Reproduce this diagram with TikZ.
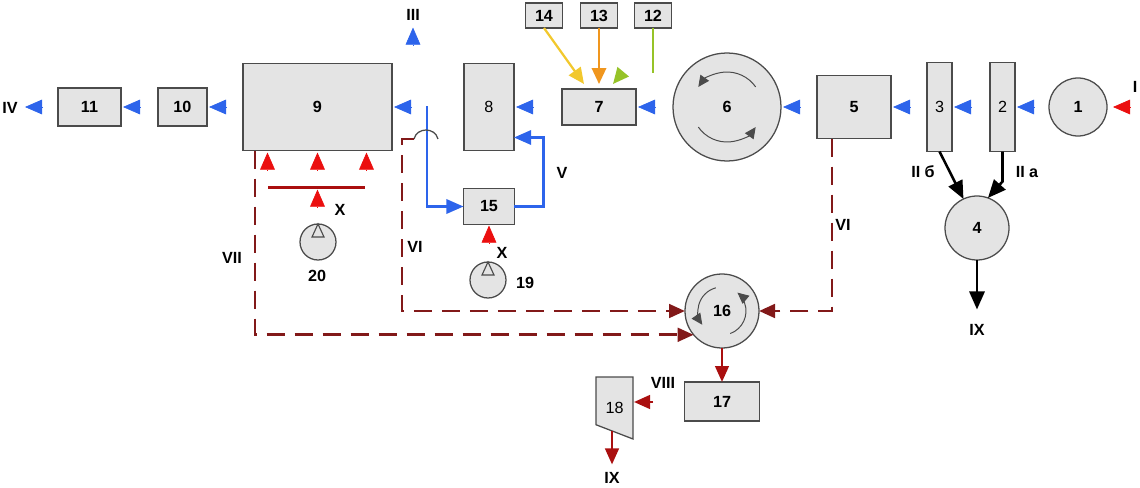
\documentclass[tikz,border=0pt]{standalone}
\usepackage{fontspec}
\setmainfont{Liberation Sans}
\usetikzlibrary{arrows.meta,positioning,calc}
\definecolor{boxfill}{RGB}{228,228,228}
\definecolor{boxline}{RGB}{75,75,75}
\definecolor{feedblue}{RGB}{45,100,235}
\definecolor{heatred}{RGB}{235,15,15}
\definecolor{wastered}{RGB}{130,25,25}
\definecolor{flowred}{RGB}{170,15,15}
\definecolor{addyellow}{RGB}{242,200,45}
\definecolor{addorange}{RGB}{240,150,30}
\definecolor{addgreen}{RGB}{150,195,40}

\begin{document}
\begin{tikzpicture}[x=0.25mm, y=-0.25mm, node distance=9mm,
  font=\bfseries\fontsize{11.5}{13}\selectfont,
  box/.style={draw=boxline, fill=boxfill, line width=0.9pt, inner sep=0pt, outer sep=0pt},
  drum/.style={box, circle},
  regular/.style={font=\mdseries\fontsize{11.5}{13}\selectfont},
  tipped/.style={-{Triangle[length=4.3mm, width=3.7mm]}, line width=0.5pt},
  feed/.style={tipped, feedblue},
  heat/.style={tipped, heatred},
  pipe/.style={feedblue, line width=1.7pt, -{Triangle[length=4.3mm, width=3.6mm]}},
  waste/.style={wastered, line width=2.1pt, dash pattern=on 4.5mm off 2.5mm,
                -{Triangle[length=4mm, width=3.4mm]}},
  flow/.style={flowred, line width=1.8pt, -{Triangle[length=4mm, width=3.4mm]}},
  drain/.style={black, line width=1.8pt, -{Triangle[length=4.5mm, width=3.8mm]}},
  dose/.style={line width=1.6pt, -{Triangle[length=4mm, width=3.6mm]}},
  swirl/.style={boxline, line width=0.7pt, -{Triangle[length=2.8mm, width=2.6mm]}}]
\useasboundingbox (0,0) rectangle (1140,488);

\node[drum, minimum size=14.5mm] (n1) at (1078,107) {1};
\node[box, regular, minimum width=6.25mm, minimum height=22.25mm, left=8.5mm of n1] (n2) {2};
\node[box, regular, minimum width=6.25mm, minimum height=22.25mm, left=9.5mm of n2] (n3) {3};
\node[box, minimum width=18.5mm, minimum height=15.75mm, left=of n3] (n5) {5};
\node[drum, minimum size=27mm, left=of n5] (n6) {6};
\node[box, minimum width=18.5mm, minimum height=9mm, left=9.25mm of n6] (n7) {7};
\node[box, regular, minimum width=12.5mm, minimum height=21.75mm, left=12mm of n7] (n8) {8};
\node[box, minimum width=37.25mm, minimum height=21.75mm, left=18mm of n8] (n9) {9};
\node[box, minimum width=12.25mm, minimum height=9.5mm, left=of n9] (n10) {10};
\node[box, minimum width=15.75mm, minimum height=9.5mm, left=9.25mm of n10] (n11) {11};
\node[box, minimum width=9.25mm, minimum height=6.25mm, above=15.25mm of n7] (n13) {13};
\node[box, minimum width=9.25mm, minimum height=6.25mm, left=4.5mm of n13] (n14) {14};
\node[box, minimum width=9.25mm, minimum height=6.25mm, right=4.25mm of n13] (n12) {12};
\node[box, minimum width=12.75mm, minimum height=9mm, below=9.5mm of n8] (n15) {15};
\node[drum, minimum size=16mm] (n4) at (977,228) {4};
\node[drum, minimum size=18.5mm] (n16) at (722,311) {16};
\node[box, minimum width=18.75mm, minimum height=9.75mm, below=8.5mm of n16] (n17) {17};
\node[drum, minimum size=9mm] (n19) at (488,280) {};
\node[drum, minimum size=9mm] (n20) at (318,242) {};
\node[minimum width=9.25mm, minimum height=15.5mm, inner sep=0pt, outer sep=0pt] (n18) at (614.5,408) {};
\draw[box] (n18.north west) -- (n18.north east) -- (n18.south east)
  -- ($(n18.north west)!0.77!(n18.south west)$) -- cycle;
\node[regular] (t18) at (n18) {18};

\node (lI) at (1135,87) {I};
\node (lIIb) at (923,172) {II б};
\node (lIIa) at (1027,172) {II a};
\node (lIII) at (413,15) {III};
\node (lIV) at (10,108) {IV};
\node (lV) at (562,173) {V};
\node (lVIa) at (415,247) {VI};
\node (lVIb) at (843,225) {VI};
\node (lVII) at (232,258) {VII};
\node (lVIII) at (663,383) {VIII};
\node (lIXa) at (612,478) {IX};
\node (lIXb) at (977,330) {IX};
\node (lXa) at (340,210) {X};
\node (lXb) at (502,253) {X};
\node (l19) at (525,283) {19};
\node (l20) at (317,276) {20};

\foreach \n in {n2,n3,n5,n6,n7,n8,n9,n10,n11}
  \draw[feed] ($(\n.east)+(19,0)$) -- ($(\n.east)+(2,0)$);
\draw[feed] ($(n11.west)+(-16,0)$) -- ++(-17,0);
\draw[feed] ($(lIII.south)+(0,19)$) -- ++(0,-17);

\draw[heat] ($(n1.east)+(23,0)$) -- ++(-17,0);
\foreach \dx in {-50,0,49}
  \draw[heat] ($(n9.south)+(\dx,19)$) -- ++(0,-17);
\coordinate (hdr) at ($(n9.south)+(0,37)$);
\draw[flowred, line width=2pt] ($(hdr)+(-49,0)$) -- ($(hdr)+(48,0)$);
\draw[heat] ($(hdr)+(0,19)$) -- ++(0,-17);
\draw[heat] ($(n15.south)+(0,18)$) -- ++(0,-17);
\foreach \n in {n19,n20}
  \draw[boxline, line width=0.8pt] (\n.north) -- ++(-6,13) -- ++(12,0) -- cycle;

\draw[dose, addyellow] (n14.south) -- ($(n7.north)+(-15,-5)$);
\draw[dose, addorange] (n13.south) -- ($(n7.north)+(0,-5)$);
\draw[dose, addgreen] ($(n7.north)+(24,-17)$) -- ($(n7.north)+(14,-5)$);
\draw[addgreen, line width=1.6pt] (n12.south) -- ++(0,45);

\coordinate (tap) at ($(n9.east)+(35,-1)$);
\draw[pipe] (tap) |- (n15.west);
\draw[pipe] (n15.east) -- ++(29,0) |- ($(n8.south east)+(0,-13)$);

\coordinate (hop) at ($(tap)+(-13,33)$);
\coordinate (hopend) at ($(hop)+(24,0)$);
\draw[boxline, line width=0.9pt] (hop) .. controls +(3,-12) and +(-3,-12) .. (hopend);
\draw[waste] (hop) -- ++(-12,0) |- (n16.west);
\draw[waste] ($(n9.south west)+(12,0)$) |- (n16.220);
\draw[waste] ($(n5.south west)+(15,0)$) |- (n16.east);

\draw[swirl] ($(n6)+(-35:35)$) arc[start angle=-35, end angle=-145, radius=35];
\draw[swirl] ($(n6)+(-215:35)$) arc[start angle=-215, end angle=-325, radius=35];
\draw[swirl] ($(n16)+(-105:24)$) arc[start angle=-105, end angle=-215, radius=24];
\draw[swirl] ($(n16)+(-290:24)$) arc[start angle=-290, end angle=-410, radius=24];

\draw[flow] (n16.south) -- (n16.south |- n17.north);
\draw[flow] ($(n18.east)+(20,-6)$) -- ($(n18.east)+(1,-6)$);
\draw[flow] ($(n18.south)+(-2.5,-8)$) -- ($(lIXa.north)+(0,-3)$);

\draw[drain] (n3.south) -- (n4.115);
\draw[drain] (n2.south) -- ++(0,30) -- (n4.70);
\draw[drain] (n4.south) -- ($(lIXb.north)+(0,-10)$);
\end{tikzpicture}
\end{document}
